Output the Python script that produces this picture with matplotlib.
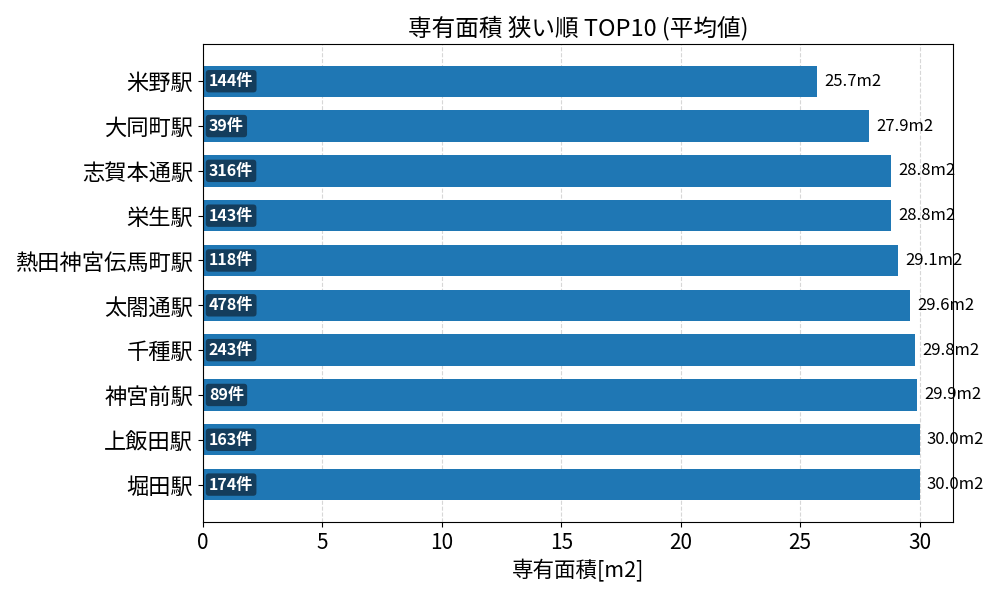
import matplotlib.pyplot as plt

plt.rcParams['font.family'] = ['Noto Sans CJK JP', 'DejaVu Sans']

stations = ["米野駅", "大同町駅", "志賀本通駅", "栄生駅", "熱田神宮伝馬町駅",
            "太閤通駅", "千種駅", "神宮前駅", "上飯田駅", "堀田駅"]
areas = [25.7, 27.9, 28.8, 28.8, 29.1, 29.6, 29.8, 29.9, 30.0, 30.0]
counts = [144, 39, 316, 143, 118, 478, 243, 89, 163, 174]

fig, ax = plt.subplots(figsize=(10, 6), dpi=100)
y = list(range(len(stations)))
ax.barh(y, areas, height=0.7, color="#1f77b4", zorder=2)
ax.set_yticks(y)
ax.set_yticklabels(stations, fontsize=16)
ax.invert_yaxis()
ax.set_xlim(0, 31.4)
ax.tick_params(axis="x", labelsize=15)
ax.grid(axis="x", linestyle="--", alpha=0.5, zorder=0)
ax.set_axisbelow(True)

for yi, a, c in zip(y, areas, counts):
    ax.text(a + 0.3, yi, f"{a:.1f}m2", va="center", ha="left", fontsize=12)
    ax.text(0.25, yi, f"{c}件", va="center", ha="left", fontsize=11.5,
            color="white", fontweight="bold",
            bbox=dict(boxstyle="round,pad=0.2", facecolor="#143d5c", edgecolor="none"))

ax.set_xlabel("専有面積[m2]", fontsize=15.5)
ax.set_title("専有面積 狭い順 TOP10 (平均値)", fontsize=17)
plt.subplots_adjust(left=0.203, right=0.953, top=0.927, bottom=0.13)
plt.savefig("out.png", dpi=100)
